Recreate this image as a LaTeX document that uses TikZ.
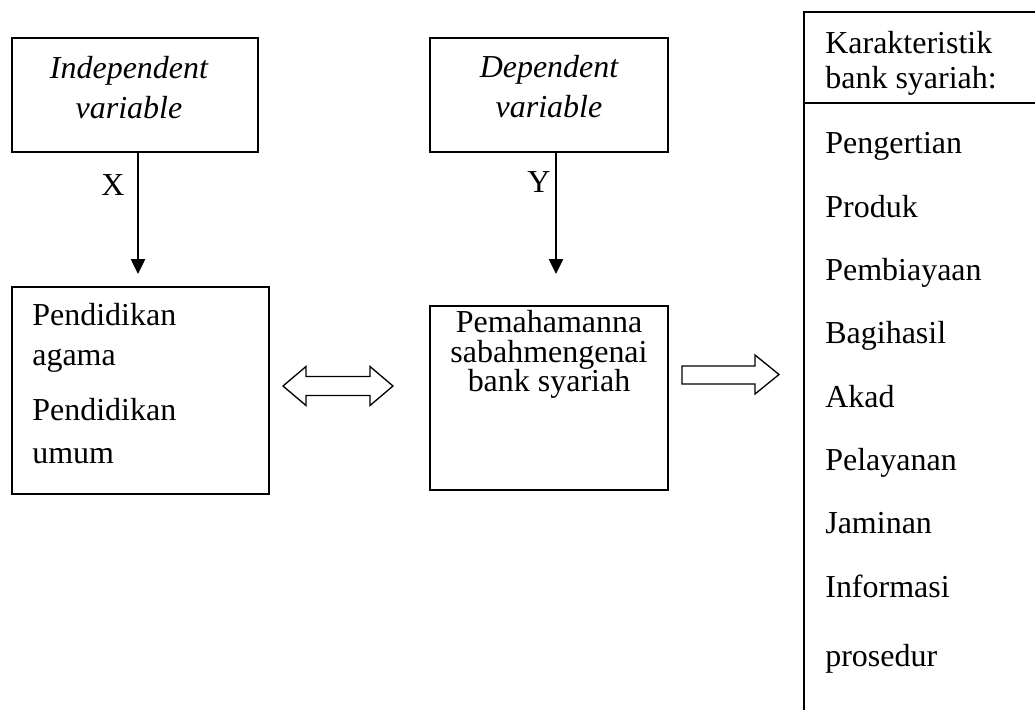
\documentclass[tikz,border=0pt]{standalone}
\usepackage{fontspec}
\setmainfont{Liberation Serif}
\usetikzlibrary{arrows.meta}
\newcommand{\diafont}{\fontsize{18.2}{22.8}\selectfont}

\begin{document}
\begin{tikzpicture}[x=0.02cm, y=-0.02cm,
          box/.style={draw, line width=1.1pt, inner sep=0pt},
          txt/.style={inner sep=0pt, font=\diafont},
          item/.style={inner sep=0pt, anchor=base west, font=\diafont},
          hollow/.style={draw, line width=0.75pt, line join=miter},
          arr/.style={line width=1.1pt, -{Triangle[width=8pt, length=8.5pt]}}]
          \useasboundingbox (0,0) rectangle (1035,710);
          % boxes
          \node[box, minimum width=4.92cm, minimum height=2.28cm] (indep) at (135,95) {};
          \node[box, minimum width=4.76cm, minimum height=2.28cm] (dep) at (549,95) {};
          \node[box, minimum width=5.14cm, minimum height=4.14cm] (edu) at (140.5,390.5) {};
          \node[box, minimum width=4.76cm, minimum height=3.68cm] (paham) at (549,398) {};
          % texts in the boxes
          \node[txt, anchor=north, align=center, font=\diafont\itshape] (indeptxt) at (129,56) {Independent\\variable};
          \node[txt, anchor=north, align=center, font=\diafont\itshape] (deptxt) at (549,55) {Dependent\\variable};
          \node[txt, anchor=north west, align=left] (edutxt) at (32,303) {Pendidikan\\agama\\[8.5pt]Pendidikan\\[1.7pt]umum};
          \node[txt, anchor=north, align=center] (pahamtxt) at (549,310) {Pemahamanna\\[-6pt]sabahmengenai\\[-6pt]bank syariah};
          % arrows X and Y
          \draw[arr, shorten >=0.24cm] ([xshift=0.06cm]indep.south) -- ([xshift=0.06cm]indep.south |- edu.north);
          \draw[arr, shorten >=0.62cm] ([xshift=0.14cm]dep.south) -- ([xshift=0.14cm]dep.south |- paham.north);
          \node[txt] (labX) at (113,185) {X};
          \node[txt] (labY) at (539,182) {Y};
          % hollow arrows
          \draw[hollow] (283,386) -- (306,366.5) -- (306,376.5) -- (370,376.5) -- (370,366.5) -- (393,386)
              -- (370,405.5) -- (370,395.5) -- (306,395.5) -- (306,405.5) -- cycle;
          \draw[hollow] (682,366) -- (755,366) -- (755,355) -- (779,374.5) -- (755,394) -- (755,384)
              -- (682,384) -- cycle;
          % list of characteristics
          \draw[line width=1pt] (1035,12) -- (804,12) -- (804,710);
          \draw[line width=1pt] (804,103) -- (1035,103);
          \node[txt, anchor=north west, align=left] (head) at (825,31) {Karakteristik\\[-2.9pt]bank syariah:};
          \foreach \word/\y in {Pengertian/153, Produk/217, Pembiayaan/280, Bagihasil/343, Akad/407,
              Pelayanan/470, Jaminan/533, Informasi/597, prosedur/666}{
              \node[item] (\word) at (825,\y) {\word};
          }
      \end{tikzpicture}
\end{document}
